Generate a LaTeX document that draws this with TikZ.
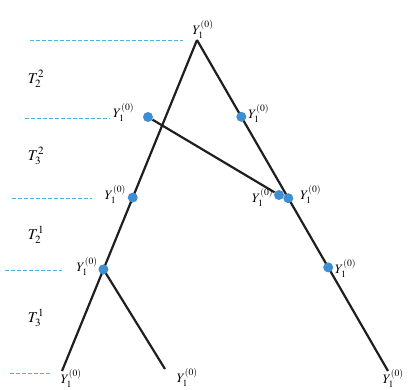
\documentclass[tikz,border=0pt]{standalone}
\usepackage{mathptmx}
\usepackage{tikz}
\usetikzlibrary{positioning,calc}

\definecolor{dotblue}{HTML}{3D8FD2}
\definecolor{lvlblue}{HTML}{4DB4DC}

\begin{document}
\begin{tikzpicture}[
  x=1pt, y=-1pt,
  branch/.style={line width=2.2pt, draw=black!88},
  lvl/.style={draw=lvlblue, dash pattern=on 3.5pt off 2.5pt, line width=0.7pt},
  dot/.style={circle, fill=dotblue, inner sep=0pt, minimum size=10pt},
  ylab/.style={inner sep=0.5pt, font=\fontsize{13}{15}\selectfont},
  tlab/.style={font=\fontsize{15}{17}\selectfont}]
  \useasboundingbox (0,0) rectangle (409,390);
  % tree branches
  \coordinate (r) at (197,40);
  \coordinate (la) at (62,371);
  \coordinate (lb) at (165,369);
  \coordinate (rb) at (388,371);
  \draw[branch] (r) -- coordinate[pos=0.476] (c3) coordinate[pos=0.693] (c4) (la);
  \draw[branch] (r) -- coordinate[pos=0.232] (c2) coordinate[pos=0.478] (c5)
    coordinate[pos=0.687] (c7) (rb);
  \draw[branch] (c4) -- (lb);
  \node[dot] (p1) at (148,117) {};
  \node[dot] (p6) at (279,195) {};
  \draw[branch] (p1) -- (p6);
  \node[dot] (p2) at (c2) {};
  \node[dot] (p3) at (c3) {};
  \node[dot] (p4) at (c4) {};
  \node[dot] (p5) at (c5) {};
  \node[dot] (p7) at (c7) {};
  % labels
  \node[ylab, above=1pt of r, xshift=6pt] (y0) {$Y_1^{(0)}$};
  \node[ylab, left=8pt of p1, yshift=5pt] (y1) {$Y_1^{(0)}$};
  \node[ylab, right=1pt of p2, yshift=3pt] (y2) {$Y_1^{(0)}$};
  \node[ylab, left=1pt of p3, yshift=3pt] (y3) {$Y_1^{(0)}$};
  \node[ylab, left=0pt of p6, yshift=-2pt] (y6) {$Y_1^{(0)}$};
  \node[ylab, right=6pt of p5, yshift=4pt] (y5) {$Y_1^{(0)}$};
  \node[ylab, left=0pt of p4, yshift=3pt] (y4) {$Y_1^{(0)}$};
  \node[ylab, right=1pt of p7, yshift=-1pt] (y7) {$Y_1^{(0)}$};
  \node[ylab, anchor=west] (ya) at ($(la)+(-2,7)$) {$Y_1^{(0)}$};
  \node[ylab, anchor=west] (yb) at ($(lb)+(11,8)$) {$Y_1^{(0)}$};
  \node[ylab, anchor=west] (yc) at ($(rb)+(-6,7)$) {$Y_1^{(0)}$};
  % level markers
  \coordinate (s0) at (30,40);   \coordinate (e0) at (183,40);
  \coordinate (s1) at (25,118);  \coordinate (e1) at (110,118);
  \coordinate (s2) at (12,198);  \coordinate (e2) at (92,198);
  \coordinate (s3) at (5,270);   \coordinate (e3) at (62,270);
  \coordinate (s4) at (10,373);  \coordinate (e4) at (50,373);
  \foreach \i in {0,...,4}
    \draw[lvl] (s\i) -- (e\i);
  \node[tlab] (t1) at (36,79) {$T_2^2$};
  \node[tlab] (t2) at (36,156) {$T_3^2$};
  \node[tlab] (t3) at (36,235) {$T_2^1$};
  \node[tlab] (t4) at (36,318) {$T_3^1$};
\end{tikzpicture}
\end{document}
